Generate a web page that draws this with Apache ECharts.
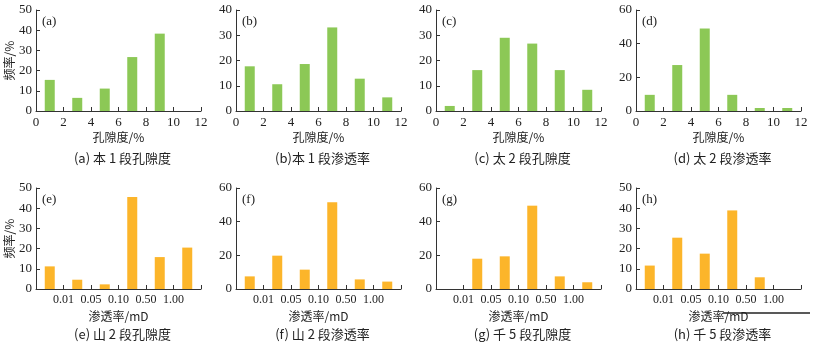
<!DOCTYPE html>
<html>
<head>
<meta charset="utf-8">
<script src="https://cdn.jsdelivr.net/npm/echarts@6/dist/echarts.min.js"></script>
<style>
  html, body { margin: 0; padding: 0; background: #fff; }
  #chart { width: 813px; height: 345px; }
</style>
</head>
<body>
<div id="chart"></div>
<script>
// bin centres on the x axis (0-12 scale)
const binCenters = [1, 3, 5, 7, 9, 11];
// permeability tick labels at bin edges 2..10
const permLabels = ['0.01', '0.05', '0.10', '0.50', '1.00'];

const panelTags = ['(a)', '(b)', '(c)', '(d)', '(e)', '(f)', '(g)', '(h)'];
const captions = [
  '(a) 本 1 段孔隙度', '(b)本 1 段渗透率', '(c) 太 2 段孔隙度', '(d) 太 2 段渗透率',
  '(e) 山 2 段孔隙度', '(f) 山 2 段渗透率', '(g) 千 5 段孔隙度', '(h) 千 5 段渗透率'
];
const yMaxList = [50, 40, 40, 60, 50, 60, 60, 50];
const yStepList = [10, 10, 10, 20, 10, 20, 20, 10];

// frequency %
const freqA = [15.4, 6.5, 11.1, 26.7, 38.3, 0];
const freqB = [17.7, 10.6, 18.6, 33.1, 12.8, 5.4];
const freqC = [2.0, 16.2, 29.0, 26.7, 16.2, 8.4];
const freqD = [9.6, 27.3, 49.0, 9.6, 1.8, 1.8];
const freqE = [11.2, 4.6, 2.3, 45.5, 15.8, 20.5];
const freqF = [7.5, 19.8, 11.5, 51.5, 5.7, 4.4];
const freqG = [0, 18.0, 19.4, 49.5, 7.5, 4.0];
const freqH = [11.6, 25.4, 17.5, 38.9, 5.8, 0];
const allFreq = [freqA, freqB, freqC, freqD, freqE, freqF, freqG, freqH];

const GREEN = '#8cc856';
const ORANGE = '#fcb52a';
const serif = '"Liberation Serif", "Times New Roman", serif';
const cjk = '"Noto Sans CJK SC", sans-serif';

const colLeft = [36, 236, 436, 636];
const rowTop = [10, 188];
const gw = 165, gh = 101;

const grid = [], xAxis = [], yAxis = [], series = [], graphic = [];

for (let i = 0; i < 8; i++) {
  const row = i < 4 ? 0 : 1;
  const left = colLeft[i % 4];
  const top = rowTop[row];
  grid.push({ left: left, top: top, width: gw, height: gh });

  xAxis.push({
    type: 'value', gridIndex: i, min: 0, max: 12, interval: 2,
    name: row === 0 ? '孔隙度/%' : '渗透率/mD',
    nameLocation: 'middle', nameGap: row === 0 ? 20 : 21,
    nameTextStyle: { fontFamily: cjk, fontSize: 12, color: '#222' },
    axisLine: { lineStyle: { color: '#333', width: 1 } },
    axisTick: { show: true, inside: true, length: 4, lineStyle: { color: '#333' } },
    axisLabel: row === 0
      ? { fontFamily: serif, fontSize: 13, color: '#222', margin: 5 }
      : {
          fontFamily: serif, fontSize: 12, color: '#222', margin: 5,
          formatter: (v) => (v > 0 && v < 12 ? permLabels[v / 2 - 1] : '')
        },
    splitLine: { show: false }
  });

  yAxis.push({
    type: 'value', gridIndex: i, min: 0, max: yMaxList[i], interval: yStepList[i],
    name: (i === 0 || i === 4) ? '频率/%' : '',
    nameLocation: 'middle', nameGap: 17, nameRotate: 90,
    nameTextStyle: { fontFamily: cjk, fontSize: 12, color: '#222' },
    axisLine: { show: true, lineStyle: { color: '#333', width: 1 } },
    axisTick: { show: true, inside: true, length: 4, lineStyle: { color: '#333' } },
    axisLabel: { fontFamily: serif, fontSize: 13, color: '#222', margin: 4 },
    splitLine: { show: false }
  });

  series.push({
    type: 'bar', xAxisIndex: i, yAxisIndex: i,
    barWidth: 10,
    itemStyle: { color: row === 0 ? GREEN : ORANGE },
    data: binCenters.map((x, k) => [x, allFreq[i][k]]),
    silent: true, animation: false
  });

  graphic.push({
    type: 'text', left: left + 6, top: top + 5,
    style: { text: panelTags[i], font: '13px ' + serif, fill: '#222' }
  });
  graphic.push({
    type: 'text', x: left + gw / 2 + 4, y: row === 0 ? 158 : 334,
    style: {
      text: captions[i], font: '13px ' + cjk, fill: '#222',
      align: 'center', verticalAlign: 'middle'
    }
  });
}

// stray rule under panel (h)
graphic.push({
  type: 'line', shape: { x1: 723, y1: 313, x2: 810, y2: 313 },
  style: { stroke: '#222', lineWidth: 1.5 }
});

const myChart = echarts.init(document.getElementById('chart'), null, { renderer: 'canvas' });
myChart.setOption({
  animation: false,
  grid: grid,
  xAxis: xAxis,
  yAxis: yAxis,
  series: series,
  graphic: graphic
});
</script>
</body>
</html>
